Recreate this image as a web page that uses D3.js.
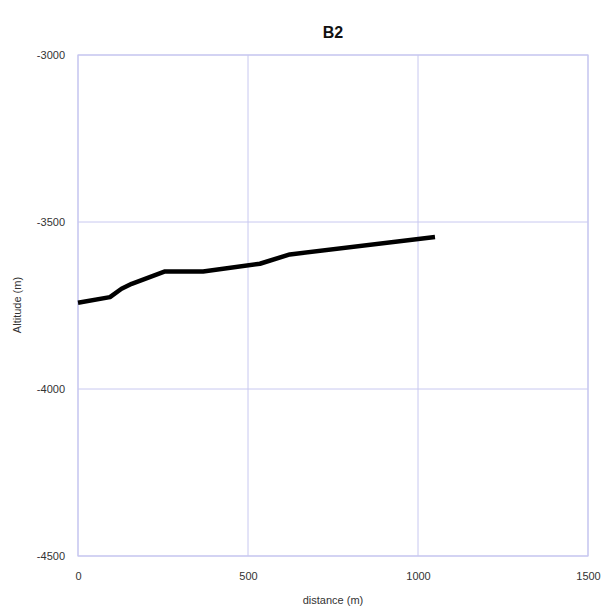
<!DOCTYPE html>
<html><head><meta charset="utf-8">
<script src="https://cdn.jsdelivr.net/npm/d3@7"></script>
<style>body{margin:0;background:#fff;} svg{display:block;font-family:"Liberation Sans",Arial,sans-serif;}</style>
</head><body>
<script>
const distance = [0, 94, 128, 158, 256, 368, 535, 623, 1050];
const altitude = [-3742, -3725, -3700, -3685, -3648, -3648, -3625, -3597, -3545];
const xTicks = [0, 500, 1000, 1500];
const yTicks = [-3000, -3500, -4000, -4500];
const title = "B2";

const W = 603, H = 612;
const m = {left: 78, right: 15, top: 55, bottom: 56};
const svg = d3.select("body").append("svg").attr("width", W).attr("height", H);
const x = d3.scaleLinear().domain([0, 1500]).range([m.left, W - m.right]);
const y = d3.scaleLinear().domain([-4500, -3000]).range([H - m.bottom, m.top]);

const grid = "#c8c8f0";
svg.append("g").selectAll("line").data(xTicks).join("line")
  .attr("x1", d => x(d)).attr("x2", d => x(d)).attr("y1", y(-3000)).attr("y2", y(-4500))
  .attr("stroke", grid).attr("stroke-width", 1);
svg.append("g").selectAll("line").data(yTicks).join("line")
  .attr("y1", d => y(d)).attr("y2", d => y(d)).attr("x1", x(0)).attr("x2", x(1500))
  .attr("stroke", grid).attr("stroke-width", 1);
svg.append("rect").attr("x", x(0)).attr("y", y(-3000)).attr("width", x(1500) - x(0)).attr("height", y(-4500) - y(-3000))
  .attr("fill", "none").attr("stroke", grid).attr("stroke-width", 1.2);

const fmt = d => String(d);
const xAxis = d3.axisBottom(x).tickValues(xTicks).tickSize(0).tickPadding(16).tickFormat(fmt);
const gx = svg.append("g").attr("transform", `translate(0,${y(-4500)})`).call(xAxis);
gx.select(".domain").remove();
gx.selectAll("text").attr("font-size", 11).attr("fill", "#333").attr("font-family", "Liberation Sans, Arial, sans-serif");

const yAxis = d3.axisLeft(y).tickValues(yTicks).tickSize(0).tickPadding(13).tickFormat(fmt);
const gy = svg.append("g").attr("transform", `translate(${x(0)},0)`).call(yAxis);
gy.select(".domain").remove();
gy.selectAll("text").attr("font-size", 11).attr("fill", "#333").attr("font-family", "Liberation Sans, Arial, sans-serif");

const line = d3.line().x((d, i) => x(distance[i])).y((d, i) => y(altitude[i]));
svg.append("path").datum(distance).attr("d", line).attr("fill", "none")
  .attr("stroke", "#000").attr("stroke-width", 4.5).attr("stroke-linejoin", "round");

svg.append("text").attr("x", 333).attr("y", 38).attr("text-anchor", "middle")
  .attr("font-size", 16).attr("font-weight", "bold").attr("fill", "#111").text(title);
svg.append("text").attr("x", 333).attr("y", 604).attr("text-anchor", "middle")
  .attr("font-size", 11).attr("fill", "#333").text("distance (m)");
svg.append("text").attr("transform", "translate(21,305) rotate(-90)").attr("text-anchor", "middle")
  .attr("font-size", 11).attr("fill", "#333").text("Altitude (m)");
</script>
</body></html>
